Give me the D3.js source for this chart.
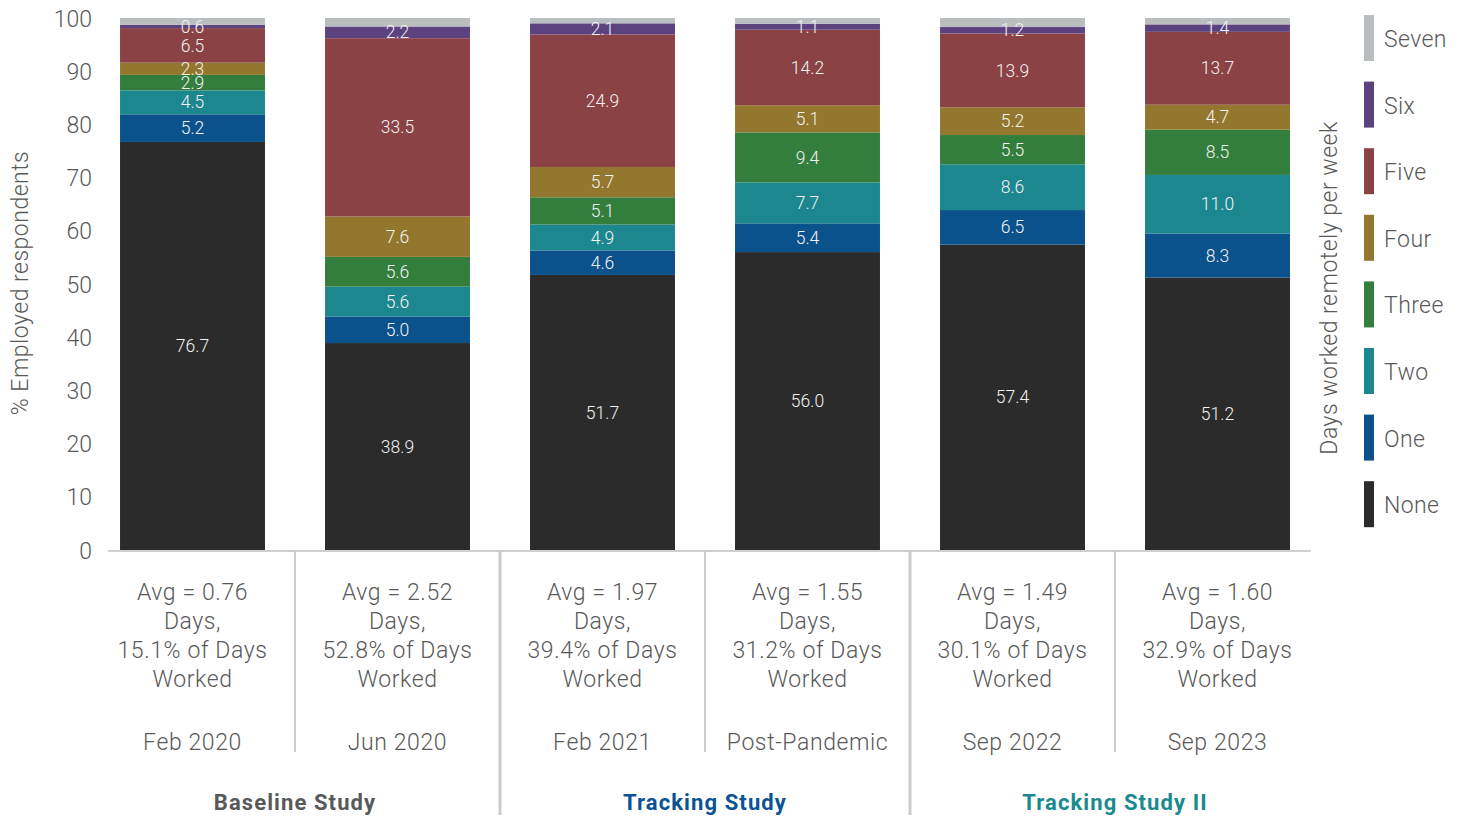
<!doctype html>
<html lang="en">
<head>
<meta charset="utf-8">
<title>Days worked remotely per week</title>
<script src="https://cdn.jsdelivr.net/npm/d3@7"></script>
<style>
  body { margin: 0; background: #fff; }
  svg text { font-family: Roboto, "Liberation Sans", sans-serif; font-weight: 300; fill: #595959; }
  .bar-label { fill: #f2f2f2; font-size: 17.5px; }
  .cat-label { font-size: 23px; letter-spacing: 0.6px; }
  .group-label { font-weight: 700; font-size: 22px; letter-spacing: 1.1px; }
</style>
</head>
<body>
<svg width="1461" height="817"></svg>
<script>
// categories along the x axis
const periods = ["Feb 2020", "Jun 2020", "Feb 2021", "Post-Pandemic", "Sep 2022", "Sep 2023"];
const avgDays = ["0.76", "2.52", "1.97", "1.55", "1.49", "1.60"];
const pctDays = ["15.1", "52.8", "39.4", "31.2", "30.1", "32.9"];

const groups = ["Baseline Study", "Tracking Study", "Tracking Study II"];
const groupSpan = [[0, 1], [2, 3], [4, 5]];

// series, bottom to top
const seriesNames = ["None", "One", "Two", "Three", "Four", "Five", "Six", "Seven"];
const none  = [76.7, 38.9, 51.7, 56.0, 57.4, 51.2];
const one   = [5.2, 5.0, 4.6, 5.4, 6.5, 8.3];
const two   = [4.5, 5.6, 4.9, 7.7, 8.6, 11.0];
const three = [2.9, 5.6, 5.1, 9.4, 5.5, 8.5];
const four  = [2.3, 7.6, 5.7, 5.1, 5.2, 4.7];
const five  = [6.5, 33.5, 24.9, 14.2, 13.9, 13.7];
const six   = [0.6, 2.2, 2.1, 1.1, 1.2, 1.4];
const seven = [1.3, 1.6, 1.0, 1.1, 1.7, 1.2];

const yTicks = [0, 10, 20, 30, 40, 50, 60, 70, 80, 90, 100];

const colors = {
  None: "#2b2b2b", One: "#0b518c", Two: "#1c878f", Three: "#337d3d",
  Four: "#93772e", Five: "#8a4245", Six: "#5c4380", Seven: "#bbbec1"
};
const groupColors = ["#595959", "#0b5394", "#1b8a8f"];

const allSeries = [none, one, two, three, four, five, six, seven];
const rows = periods.map((p, i) => {
  const r = { period: p };
  seriesNames.forEach((s, k) => r[s] = allSeries[k][i]);
  return r;
});

const svg = d3.select("svg");

const x = d3.scaleBand()
  .domain(periods)
  .range([90, 1320])
  .paddingInner(0.293)
  .paddingOuter(0.1465);

const y = d3.scaleLinear()
  .domain([0, 100])
  .range([550, 18]);

const stacked = d3.stack().keys(seriesNames)(rows);

// y axis labels (no line, no ticks)
const yAxis = svg.append("g")
  .attr("transform", "translate(92,0)")
  .call(d3.axisLeft(y).tickValues(yTicks).tickSize(0).tickPadding(0));
yAxis.select(".domain").remove();
yAxis.selectAll("text")
  .style("font-size", "23px")
  .style("font-family", null)
  .attr("dy", "0.35em");

svg.append("text")
  .attr("transform", "translate(20,283) rotate(-90)")
  .attr("text-anchor", "middle")
  .attr("dy", "0.35em")
  .style("font-size", "23px")
  .style("letter-spacing", "0.5px")
  .text("% Employed respondents");

// bars
const layer = svg.append("g").selectAll("g")
  .data(stacked)
  .enter().append("g")
  .attr("fill", d => colors[d.key]);

layer.selectAll("rect")
  .data(d => d)
  .enter().append("rect")
  .attr("x", d => x(d.data.period))
  .attr("width", x.bandwidth())
  .attr("y", d => y(d[1]))
  .attr("height", d => y(d[0]) - y(d[1]));

// segment labels (all but "Seven")
stacked.filter(s => s.key !== "Seven").forEach(s => {
  svg.append("g").selectAll("text")
    .data(s)
    .enter().append("text")
    .attr("class", "bar-label")
    .attr("x", d => x(d.data.period) + x.bandwidth() / 2)
    .attr("y", d => y((d[0] + d[1]) / 2))
    .attr("text-anchor", "middle")
    .attr("dy", "0.35em")
    .text(d => d3.format(".1f")(d[1] - d[0]));
});

// baseline
svg.append("line")
  .attr("x1", 108).attr("x2", 1311)
  .attr("y1", y(0) + 1).attr("y2", y(0) + 1)
  .attr("stroke", "#cfcfcf").attr("stroke-width", 2);

// category separators
const step = x.step();
periods.slice(1).forEach((p, i) => {
  const sx = x(p) - (step - x.bandwidth()) / 2;
  const isGroup = groupSpan.some(g => g[0] === i + 1);
  svg.append("line")
    .attr("x1", sx).attr("x2", sx)
    .attr("y1", y(0) + 1)
    .attr("y2", isGroup ? 815 : 752)
    .attr("stroke", "#cccccc")
    .attr("stroke-width", isGroup ? 3 : 2);
});

// multi-line category labels
const catLabels = svg.append("g").selectAll("g")
  .data(periods)
  .enter().append("g")
  .attr("transform", d => `translate(${x(d) + x.bandwidth() / 2},0)`);

catLabels.each(function(p, i) {
  const g = d3.select(this);
  const lines = [`Avg = ${avgDays[i]}`, "Days,", `${pctDays[i]}% of Days`, "Worked"];
  lines.forEach((t, k) => {
    g.append("text")
      .attr("class", "cat-label")
      .attr("y", 592 + k * 29)
      .attr("dy", "0.35em")
      .attr("text-anchor", "middle")
      .text(t);
  });
  g.append("text")
    .attr("class", "cat-label")
    .attr("y", 742)
    .attr("dy", "0.35em")
    .attr("text-anchor", "middle")
    .text(p);
});

// group labels
groups.forEach((gname, i) => {
  const a = x(periods[groupSpan[i][0]]);
  const b = x(periods[groupSpan[i][1]]) + x.bandwidth();
  svg.append("text")
    .attr("class", "group-label")
    .attr("x", (a + b) / 2)
    .attr("y", 802)
    .attr("dy", "0.35em")
    .attr("text-anchor", "middle")
    .style("fill", groupColors[i])
    .text(gname);
});

// legend
const legendOrder = seriesNames.slice().reverse();
const legend = svg.append("g").selectAll("g")
  .data(legendOrder)
  .enter().append("g")
  .attr("transform", (d, i) => `translate(1364,${15 + i * 66.6})`);

legend.append("rect")
  .attr("width", 10)
  .attr("height", 46)
  .attr("fill", d => colors[d]);

legend.append("text")
  .attr("x", 20)
  .attr("y", 24)
  .attr("dy", "0.35em")
  .style("font-size", "23px")
  .style("letter-spacing", "0.4px")
  .text(d => d);

svg.append("text")
  .attr("transform", "translate(1329,288) rotate(-90)")
  .attr("text-anchor", "middle")
  .attr("dy", "0.35em")
  .style("font-size", "23px")
  .style("letter-spacing", "0.5px")
  .text("Days worked remotely per week");
</script>
</body>
</html>
